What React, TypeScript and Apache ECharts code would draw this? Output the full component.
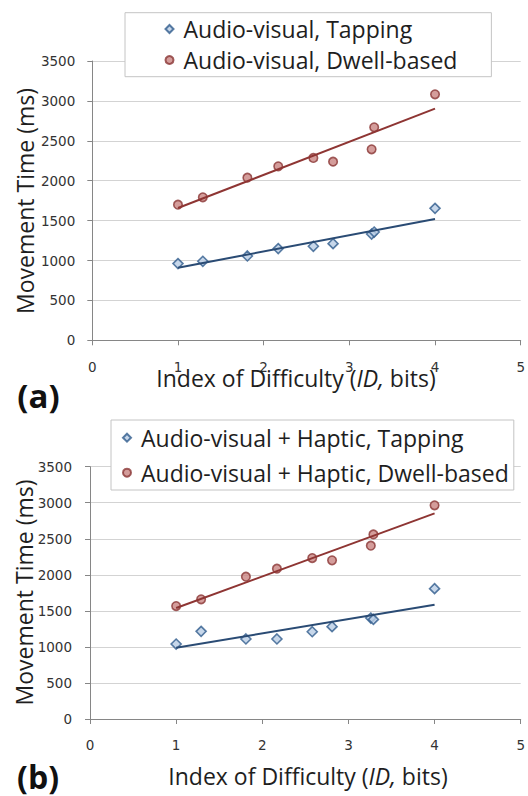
import React, { useEffect, useRef } from "react";
import * as echarts from "echarts";

// Index of difficulty (bits) for the nine conditions
const idBits = [1.0, 1.29, 1.81, 2.17, 2.58, 2.81, 3.26, 3.29, 4.0];

// Panel (a): Audio-visual
const tapA = [961, 990, 1057, 1149, 1178, 1211, 1332, 1357, 1654];
const dwellA = [1700, 1792, 2038, 2180, 2285, 2239, 2393, 2669, 3082];
// Panel (b): Audio-visual + Haptic
const tapB = [1040, 1216, 1110, 1110, 1211, 1281, 1401, 1382, 1808];
const dwellB = [1567, 1660, 1974, 2085, 2233, 2201, 2404, 2561, 2964];

// Linear trend lines (endpoints at ID = 1 and ID = 4)
const trendX = [1, 4];
const trendTapA = [910, 1520];
const trendDwellA = [1658, 2903];
const trendTapB = [989, 1586];
const trendDwellB = [1540, 2853];

const namesA = ["Audio-visual, Tapping", "Audio-visual, Dwell-based"];
const namesB = ["Audio-visual + Haptic, Tapping", "Audio-visual + Haptic, Dwell-based"];

const xMin = 0, xMax = 5, xStep = 1;
const yMin = 0, yMax = 3500, yStep = 500;

const FONT = "Open Sans";
const TICK_FONT = "DejaVu Sans";
const AXIS_GRAY = "#868686";
const GRID_GRAY = "#d3d3d3";
const TEXT = "#1e1e1e";

const BLUE_FILL = "#b9cde5";
const BLUE_EDGE = "#2f5b8c";
const BLUE_LINE = "#2a4b74";
const RED_FILL = "#c98482";
const RED_EDGE = "#8a3634";
const RED_LINE = "#8e3533";

const zip = (xs: number[], ys: number[]) => xs.map((x, i) => [x, ys[i]]);

function xAxis(gridIndex: number, margin: number) {
  return {
    type: "value",
    gridIndex,
    min: xMin,
    max: xMax,
    interval: xStep,
    axisLine: { show: true, onZero: false, lineStyle: { color: AXIS_GRAY, width: 1 } },
    axisTick: { show: true, length: 5, lineStyle: { color: AXIS_GRAY } },
    splitLine: { show: false },
    axisLabel: {
      margin,
      fontFamily: TICK_FONT,
      fontSize: 13.5,
      color: "#333",
      formatter: (v: number) => String(v),
    },
  };
}

function yAxis(gridIndex: number, margin: number) {
  return {
    type: "value",
    gridIndex,
    min: yMin,
    max: yMax,
    interval: yStep,
    axisLine: { show: true, lineStyle: { color: AXIS_GRAY, width: 1 } },
    axisTick: { show: true, length: 5, lineStyle: { color: AXIS_GRAY } },
    splitLine: { show: true, lineStyle: { color: GRID_GRAY, width: 1.2 } },
    axisLabel: {
      margin,
      fontFamily: TICK_FONT,
      fontSize: 13.5,
      color: "#333",
      formatter: (v: number) => String(v),
    },
  };
}

function scatter(name: string, idx: number, ys: number[], kind: "tap" | "dwell") {
  return {
    type: "scatter",
    name,
    xAxisIndex: idx,
    yAxisIndex: idx,
    data: zip(idBits, ys),
    symbol: kind === "tap" ? "diamond" : "circle",
    symbolSize: kind === "tap" ? 10 : 8.5,
    itemStyle:
      kind === "tap"
        ? { color: BLUE_FILL, borderColor: BLUE_EDGE, borderWidth: 1.6 }
        : { color: RED_FILL, borderColor: RED_EDGE, borderWidth: 1.6 },
    z: 3,
    silent: true,
  };
}

function trend(idx: number, ys: number[], color: string) {
  return {
    type: "line",
    xAxisIndex: idx,
    yAxisIndex: idx,
    data: zip(trendX, ys),
    symbol: "none",
    showSymbol: false,
    lineStyle: { color, width: 2 },
    z: 4,
    silent: true,
  };
}

function legend(names: string[], left: number, top: number, padding: number[], lineHeight: number, itemGap: number, textPad: number) {
  return {
    data: names,
    orient: "vertical",
    left,
    top,
    padding,
    itemGap,
    itemWidth: 8,
    itemHeight: 8,
    selectedMode: false,
    backgroundColor: "#fff",
    borderColor: "#c4c4c4",
    borderWidth: 1,
    borderRadius: 0,
    textStyle: {
      fontFamily: FONT,
      fontSize: 23,
      color: TEXT,
      lineHeight,
      padding: [0, 0, 0, textPad],
    },
  };
}

function textEl(x: number, y: number, text: string, extra: any = {}, rotation = 0) {
  return {
    type: "text",
    x,
    y,
    rotation,
    style: {
      text,
      fontFamily: FONT,
      fontSize: 23,
      fill: TEXT,
      align: "center",
      verticalAlign: "middle",
      ...extra,
    },
    z: 10,
  };
}

const xTitleRich = {
  n: { fontFamily: FONT, fontSize: 23, fill: TEXT, color: TEXT },
  i: { fontFamily: FONT, fontSize: 23, fontStyle: "italic", fill: TEXT, color: TEXT },
};
const xTitleText = "{n|Index of Difficulty (}{i|ID,}{n| bits)}";

const option: any = {
  animation: false,
  backgroundColor: "#ffffff",
  grid: [
    { left: 92.3, top: 61, width: 432.4, height: 279.3 },
    { left: 90, top: 466.7, width: 433.7, height: 252.3 },
  ],
  xAxis: [xAxis(0, 20), xAxis(1, 19)],
  yAxis: [yAxis(0, 17), yAxis(1, 18)],
  legend: [
    legend(namesA, 125, 12.7, [3.3, 34, 3.7, 39.5], 26, 5, 5),
    legend(namesB, 111, 420, [3.7, 5, 3.3, 11], 28, 7, 5),
  ],
  series: [
    scatter(namesA[0], 0, tapA, "tap"),
    scatter(namesA[1], 0, dwellA, "dwell"),
    trend(0, trendTapA, BLUE_LINE),
    trend(0, trendDwellA, RED_LINE),
    scatter(namesB[0], 1, tapB, "tap"),
    scatter(namesB[1], 1, dwellB, "dwell"),
    trend(1, trendTapB, BLUE_LINE),
    trend(1, trendDwellB, RED_LINE),
  ],
  graphic: [
    textEl(25, 201, "Movement Time (ms)", {}, Math.PI / 2),
    textEl(23.5, 592.5, "Movement Time (ms)", {}, Math.PI / 2),
    textEl(296, 378, xTitleText, { rich: xTitleRich }),
    textEl(308, 776, xTitleText, { rich: xTitleRich }),
    textEl(38.5, 395.5, "(a)", { fontSize: 33, fontWeight: "bold", fill: "#111" }),
    textEl(38, 776, "(b)", { fontSize: 32, fontWeight: "bold", fill: "#111" }),
  ],
};

export default function App() {
  const ref = useRef<HTMLDivElement>(null);
  useEffect(() => {
    const chart = echarts.init(ref.current!, null, { renderer: "svg" });
    chart.setOption(option);
    return () => chart.dispose();
  }, []);
  return (
    <div
      ref={ref}
      style={{ position: "fixed", left: 0, top: 0, width: 528, height: 796, background: "#fff" }}
    />
  );
}
